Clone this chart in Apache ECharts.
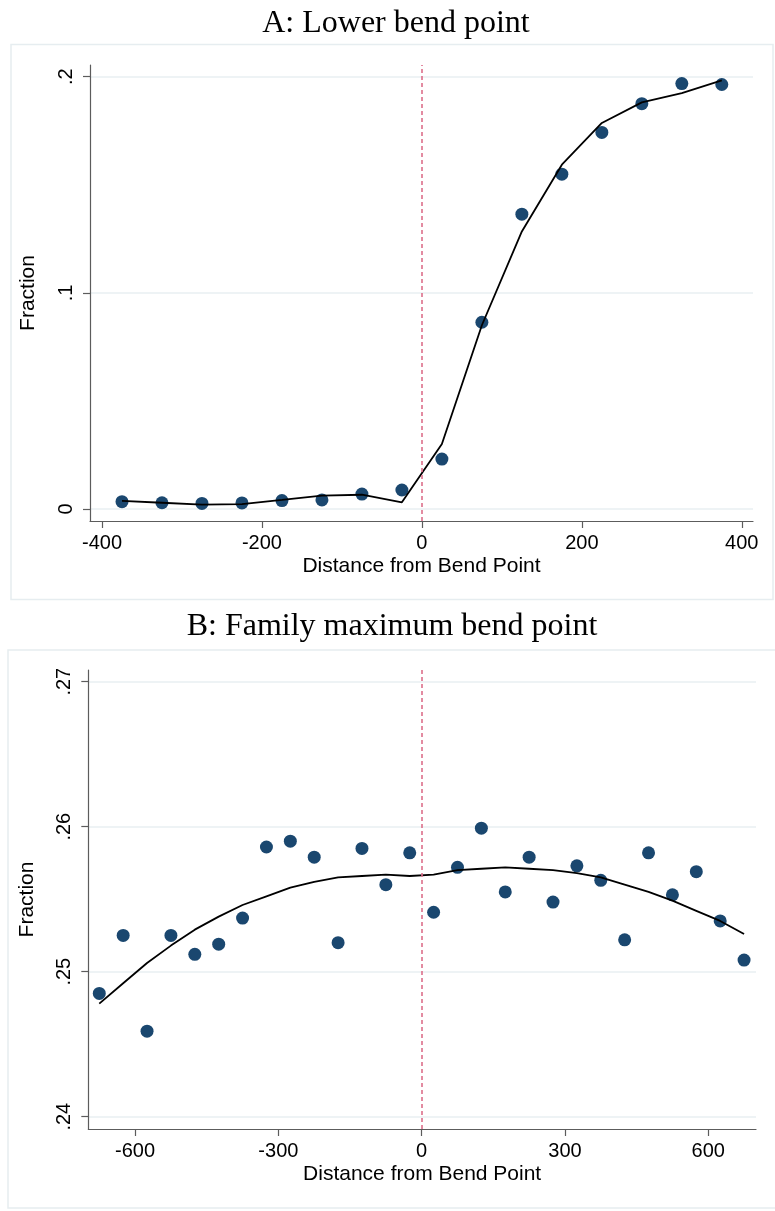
<!DOCTYPE html>
<html><head><meta charset="utf-8">
<script src="https://cdn.jsdelivr.net/npm/echarts@6/dist/echarts.min.js"></script>
<style>html,body{margin:0;padding:0;background:#fff}#c{width:775px;height:1211px}</style>
</head><body><div id="c"></div>
<script>
// Panel A: Lower bend point
const xA = [-375,-325,-275,-225,-175,-125,-75,-25,25,75,125,175,225,275,325,375];
const fracA = [0.0034,0.0029,0.0026,0.0028,0.0039,0.0042,0.0069,0.0088,0.0231,0.0864,0.1364,0.1549,0.1742,0.1875,0.1968,0.1964];
const fitA  = [0.0038,0.0029,0.0020,0.0023,0.0042,0.0062,0.0066,0.0031,0.0301,0.0850,0.1284,0.1593,0.1786,0.1881,0.1924,0.1983];
const xTicksA = [-400,-200,0,200,400];
const yTicksA = [0,0.1,0.2];

// Panel B: Family maximum bend point
const xB = [-675,-625,-575,-525,-475,-425,-375,-325,-275,-225,-175,-125,-75,-25,25,75,125,175,225,275,325,375,425,475,525,575,625,675];
const fracB = [0.2485,0.2525,0.2459,0.2525,0.2512,0.2519,0.2537,0.2586,0.2590,0.2579,0.2520,0.2585,0.2560,0.2582,0.2541,0.2572,0.2599,0.2555,0.2579,0.2548,0.2573,0.2563,0.2522,0.2582,0.2553,0.2569,0.2535,0.2508];
const fitB  = [0.2478,0.2492,0.2506,0.2518,0.2529,0.2538,0.2546,0.2552,0.2558,0.2562,0.2565,0.2566,0.2567,0.2566,0.2567,0.2570,0.2571,0.2572,0.2571,0.2570,0.2568,0.2565,0.2560,0.2555,0.2549,0.2542,0.2535,0.2526];
const xTicksB = [-600,-300,0,300,600];
const yTicksB = [0.24,0.25,0.26,0.27];

const titleA = 'A: Lower bend point';
const titleB = 'B: Family maximum bend point';
const xName = 'Distance from Bend Point';
const yName = 'Fraction';

const AX = '#5c5c5c', GRID = '#e9eff2', DOT = '#1a476f', RED = '#dc6f8a', BOX = '#e6edf0';
const SANS = 'Liberation Sans';
const fmt = v => v === 0 ? '0' : String(v).replace(/^0\./, '.');
const pairs = (xs, ys) => xs.map((x, i) => [x, ys[i]]);

function mkX(gi, min, max, ticks) {
  return {
    type: 'value', gridIndex: gi, min, max,
    name: xName, nameLocation: 'middle', nameGap: 35,
    nameTextStyle: { fontFamily: SANS, fontSize: 21, color: '#000' },
    axisLine: { show: true, onZero: false, lineStyle: { color: AX, width: 1.2 } },
    axisTick: { show: true, length: 7, customValues: ticks, lineStyle: { color: AX, width: 1.2 } },
    axisLabel: { customValues: ticks, margin: 12, fontFamily: SANS, fontSize: 20, color: '#000' },
    splitLine: { show: false }
  };
}
function mkY(gi, min, max, ticks) {
  return {
    type: 'value', gridIndex: gi, min, max,
    name: yName, nameLocation: 'middle', nameGap: 51, nameRotate: 90,
    nameTextStyle: { fontFamily: SANS, fontSize: 21, color: '#000' },
    axisLine: { show: true, onZero: false, lineStyle: { color: AX, width: 1.2 } },
    axisTick: { show: true, length: 7, customValues: ticks, lineStyle: { color: AX, width: 1.2 } },
    axisLabel: { customValues: ticks, rotate: 90, margin: 14, formatter: fmt, fontFamily: SANS, fontSize: 20, color: '#000' },
    splitLine: { show: true, lineStyle: { color: GRID, width: 1.6 } }
  };
}
const vline = {
  silent: true, symbol: 'none', label: { show: false },
  lineStyle: { color: RED, type: [4, 3], width: 1.6 },
  data: [{ xAxis: 0 }]
};

const chart = echarts.init(document.getElementById('c'));
chart.setOption({
  animation: false,
  backgroundColor: '#fff',
  graphic: [
    { type: 'rect', z: -10, shape: { x: 11, y: 44.5, width: 762, height: 555 }, style: { fill: '#fff', stroke: BOX, lineWidth: 1.5 } },
    { type: 'rect', z: -10, shape: { x: 8, y: 650, width: 780, height: 558 }, style: { fill: '#fff', stroke: BOX, lineWidth: 1.5 } },
    { type: 'text', x: 396, y: 24, style: { text: titleA, align: 'center', verticalAlign: 'middle', fontFamily: 'Liberation Serif', fontSize: 32, fill: '#000' } },
    { type: 'text', x: 392, y: 627, style: { text: titleB, align: 'center', verticalAlign: 'middle', fontFamily: 'Liberation Serif', fontSize: 32, fill: '#000' } }
  ],
  grid: [
    { left: 90, top: 65, width: 663, height: 456 },
    { left: 88.3, top: 670, width: 667.7, height: 459 }
  ],
  xAxis: [ mkX(0, -415, 414, xTicksA), mkX(1, -698, 700, xTicksB) ],
  yAxis: [ mkY(0, -0.00555, 0.20541, yTicksA), mkY(1, 0.239152, 0.270807, yTicksB) ],
  series: [
    { type: 'scatter', xAxisIndex: 0, yAxisIndex: 0, data: pairs(xA, fracA), symbolSize: 13, itemStyle: { color: DOT, opacity: 1 }, z: 2, markLine: vline },
    { type: 'line', xAxisIndex: 0, yAxisIndex: 0, data: pairs(xA, fitA), showSymbol: false, lineStyle: { color: '#000', width: 1.8 }, z: 3 },
    { type: 'scatter', xAxisIndex: 1, yAxisIndex: 1, data: pairs(xB, fracB), symbolSize: 13, itemStyle: { color: DOT, opacity: 1 }, z: 2, markLine: vline },
    { type: 'line', xAxisIndex: 1, yAxisIndex: 1, data: pairs(xB, fitB), showSymbol: false, lineStyle: { color: '#000', width: 1.8 }, z: 3 }
  ]
});
</script>
</body></html>
